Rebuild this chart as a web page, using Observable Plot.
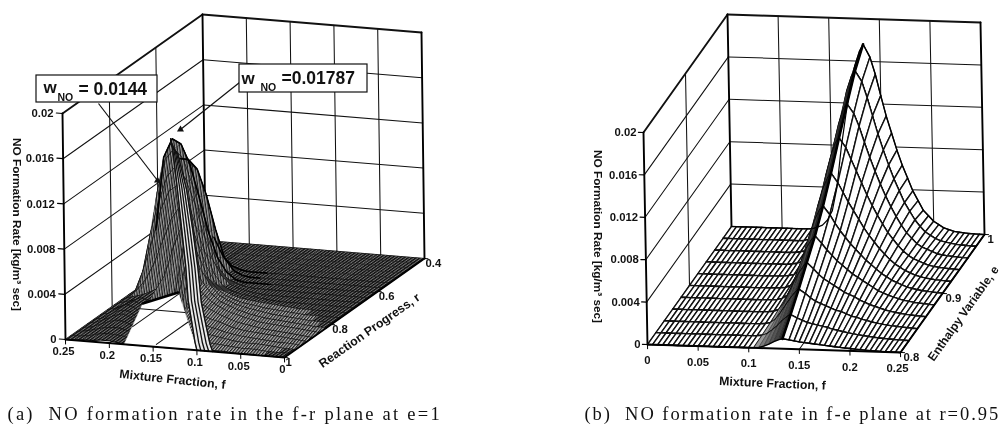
<!DOCTYPE html>
<html><head><meta charset="utf-8">
<script src="https://cdn.jsdelivr.net/npm/d3@7"></script>
<script src="https://cdn.jsdelivr.net/npm/@observablehq/plot@0.6"></script>
<style>
html,body{margin:0;padding:0;background:#fff}
svg{display:block;filter:blur(.45px)}
.capA text{letter-spacing:2.25px}
.capB text{letter-spacing:1.95px}
</style></head><body><div id="chart"></div>
<script>
// ---- panel (a) data: NO rate (1e-4 kg/m3 s) over mixture fraction f and reaction progress r
const fA=[.25,.24,.23,.22,.21,.2,.19,.18,.17,.16,.15,.14,.13,.12,.11,.1,.085,.07,.055,.04,.025,.0125,0];
const rA=[.4,.43,.46,.49,.52,.55,.58,.61,.64,.67,.7,.73,.76,.79,.82,.85,.88,.904,.928,.952,.976,1];
const zA=[
[0,0,0,0,0,0,0,0,0,0,0,0,0,0,0,0,0,0,0,0,0,0,0],
[0,0,0,0,0,0,0,0,0,0,0,0,0,0,0,0,0,0,0,0,0,0,0],
[0,0,0,0,0,0,0,0,0,0,0,0,0,0,0,0,0,0,0,0,0,0,0],
[0,0,0,0,0,0,0,0,0,0,0,0,0,0,0,0,0,0,0,0,0,0,0],
[0,8,12,12,10,5,2,0,0,0,0,0,0,0,0,0,0,0,0,0,0,0,0],
[5,22,40,46,42,28,12,4,1,0,0,0,0,0,0,0,0,0,0,0,0,0,0],
[30,75,100,100,92,70,40,15,5,1,0,0,0,0,0,0,0,0,0,0,0,0,0],
[40,105,122,118,100,72,42,20,8,2,0,0,0,0,0,0,0,0,0,0,0,0,0],
[25,78,108,118,110,88,60,35,15,6,3,1,0,0,0,0,0,0,0,0,0,0,0],
[10,47,75,98,108,98,78,50,28,14,7,4,2,1,0,0,0,0,0,0,0,0,0],
[0,20,45,72,90,96,85,60,38,20,10,6,4,3,2,1,0,0,0,0,0,0,0],
[0,5,15,30,50,70,82,72,50,30,16,10,7,5,4,3,2,1,0,0,0,0,0],
[0,3,5,8,12,25,50,70,60,42,25,16,11,8,6,5,3,2,1,0,0,0,0],
[0,3,5,8,6,0,0,15,58,52,36,24,16,12,9,7,5,3,2,1,0,0,0],
[0,2,6,10,6,0,0,0,12,45,42,30,21,15,12,9,6,4,3,2,1,0,0],
[0,2,7,11,8,0,0,0,0,10,34,32,24,18,14,11,8,5,4,3,2,1,0],
[0,2,6,10,10,5,0,0,0,0,8,24,23,19,15,12,8,6,4,3,2,1,0],
[0,2,5,9,11,8,2,0,0,0,0,6,18,16,13,11,7,5,4,3,2,1,0],
[0,1,4,7,9,8,4,0,0,0,0,0,5,13,11,9,6,4,3,2,1,1,0],
[0,1,3,5,6,6,4,1,0,0,0,0,0,6,8,7,5,3,2,2,1,0,0],
[0,0,1,3,4,4,3,1,0,0,0,0,0,0,4,4,3,2,1,1,0,0,0],
[0,0,1,1,2,2,1,0,0,0,0,0,0,0,0,1,1,1,0,0,0,0,0]];
// ridge of the (a) surface and the empty patch of its domain
const ridgeF=[.2318,.2215,.201,.1805,.16,.1415,.121,.1085,.1];
const ridgeR=[.61,.64,.7,.76,.82,.88,.94,.976,1];
const ridgeZ=[122,118,96,70,45,24,12,3,0];
const ridgeW=[0,.006,.011,.013,.014,.015,.016,.017,.018];
const holeF=[.183,.223,.2025,.108,.1];
const holeR=[1,.77,.695,.975,1];
const holeGrid=[[[.2,.9],[.2,.703]],[[.15,.986],[.15,.85]],[[.218,.8],[.167,.8]]];

// ---- panel (b) data: NO rate (1e-4) over f and enthalpy e
const fFlat=[0,.005,.01,.015,.02,.025,.03,.035,.04,.045,.05,.055,.06,.065,.07];
const fB=[.075,.08,.085,.09,.095,.1,.105,.11,.115,.12,.125,.13,.1335,.14,.145,.15,.155,.16,.165,.17,.175,.18,.185,.19,.195,.2,.205,.21,.215,.22,.225,.23,.235,.24,.245,.25];
const eB=[1,.98,.96,.94,.92,.9,.88,.86,.84,.82,.8];
const zB=[
[0,.4,2,4,9,18,40,78,108,135,156,170,176,164,148,128,109,93,77,63,51,39,30,21,16,11,8,5,3.5,2,1.4,.9,.5,.3,.1,0],
[0,.3,1.5,3,7,15,32,70,98,122,143,157,162,152,137,120,103,88,74,61,50,39,31,23,17,12,9,6,4,3,2,1.2,.8,.4,.2,0],
[0,.2,1,2,5,11,25,55,82,104,123,137,142,133,121,106,92,79,67,56,46,37,29,22,17,12,9,7,5,3,2.2,1.5,1,.6,.3,0],
[0,.1,.6,1.5,3,7,18,42,66,86,103,116,121,112,101,90,79,68,58,49,41,33,27,21,16,12,9,7,5,3.4,2.4,1.7,1.2,.8,.4,.1],
[0,.1,.3,1,2,5,12,30,50,68,83,94,99,90,81,72,64,56,48,41,35,29,24,19,15,12,9,7,5,3.6,2.6,1.9,1.3,.9,.5,.2],
[0,0,.2,.6,1,3,8,21,37,52,65,75,79,71,63,56,50,44,39,34,29,25,21,17,14,11,9,7,5,3.8,2.8,2,1.5,1,.6,.3],
[0,0,.1,.3,.7,2,5,14,26,39,50,58,62,55,49,44,39,35,31,27,24,21,18,15,12,10,8,6.5,5,3.8,2.9,2.1,1.6,1.1,.7,.3],
[0,0,0,.2,.4,1,3,9,18,28,37,44,48,42,37,33,30,27,24,21,19,17,14,12,10,8.5,7,5.5,4.4,3.4,2.6,2,1.5,1,.7,.3],
[0,0,0,.1,.2,.5,1.5,5,11,18,25,31,34,30,26,23,21,19,17,15,14,12,10,9,7.5,6.3,5.2,4.2,3.4,2.7,2.1,1.6,1.2,.8,.5,.2],
[0,0,0,0,.1,.2,.7,2.4,6,10,15,19,21,18,16,14,13,12,11,10,8.5,7.5,6.5,5.6,4.8,4,3.3,2.7,2.2,1.7,1.3,1,.7,.5,.3,.1],
[0,0,0,0,0,.1,.2,.6,2,4,6.5,8.5,9.4,8.6,7.8,7,6.5,6,5.5,5,4.5,4,3.5,3,2.6,2.2,1.8,1.5,1.2,.9,.7,.5,.4,.3,.2,0]];
const bandShades=["#999","#7a7a7a","#666","#555","#444","#2a2a2a"];

// ---- tick labels and texts
const zTicks=[0,.004,.008,.012,.016,.02];
const zLabels=["0","0.004","0.008","0.012","0.016","0.02"];
const fTicks=[.25,.2,.15,.1,.05,0];
const fLabels=["0.25","0.2","0.15","0.1","0.05","0"];
const rTicks=[1,.8,.6,.4];
const rLabels=["1","0.8","0.6","0.4"];
const eTicks=[.8,.9,1];
const eLabels=["0.8","0.9","1"];
const zTitle="NO Formation Rate [kg/m³ sec]";

// ---- oblique views of the two boxes (view setup for the library's pixel scales)
function view(o,du,dv,dz,fx,dx){
  return (a,b,z)=>[o[0]+fx(a)*du[0]+dx(b)*dv[0]+z/.02*dz[0], o[1]+fx(a)*du[1]+dx(b)*dv[1]+z/.02*dz[1]];
}
const pA=view([65,339],[219,18],[140,-99],[-3,-226],f=>1-f/.25,r=>(1-r)/.6);
const pB=view([647,344],[253,8],[84,-118],[-4,-212],f=>f/.25,e=>(e-.8)/.2);

const polys=[];let id=0;
function addLine(p,pts,stroke,sw,fill="none"){
  const k=id++;
  for(const q of pts){const [x,y]=p(q[0],q[1],q[2]||0);polys.push({k,x,y,stroke,sw,fill});}
}
function box(p,f0,f1,b0,b1,fs,bs){
  const heavy=1.9,thin=1.05;
  for(const z of zTicks){
    addLine(p,[[f0,b1,z],[f0,b0,z]],"#111",z==.02?heavy:thin);
    addLine(p,[[f0,b0,z],[f1,b0,z]],"#111",z==.02?heavy:thin);
  }
  for(const f of fs) if(f!==f0&&f!==f1) addLine(p,[[f,b0,0],[f,b0,.02]],"#111",thin);
  for(const b of bs) if(b!==b0&&b!==b1) addLine(p,[[f0,b,0],[f0,b,.02]],"#111",thin);
  for(const f of fs) if(f!==f0&&f!==f1) addLine(p,[[f,b1,0],[f,b0,0]],"#111",thin);
  for(const b of bs) if(b!==b0&&b!==b1) addLine(p,[[f0,b,0],[f1,b,0]],"#111",thin);
  addLine(p,[[f0,b1,0],[f0,b1,.02]],"#000",heavy);
  addLine(p,[[f0,b0,0],[f0,b0,.02]],"#000",heavy);
  addLine(p,[[f1,b0,0],[f1,b0,.02]],"#000",heavy);
}
box(pA,.25,0,.4,1,fTicks,rTicks);
box(pB,0,.25,1,.8,fTicks,eTicks);

function area(q){let s=0;for(let i=0;i<q.length;i++){const a=q[i],b=q[(i+1)%q.length];s+=a[0]*b[1]-a[1]*b[0];}return Math.abs(s)/2;}

// surface (a), painted back to front
zA.forEach((row,i)=>{
  if(i+1>=zA.length) return;
  for(let j=0;j+1<fA.length;j++){
    const c=[[fA[j],rA[i],row[j]],[fA[j+1],rA[i],row[j+1]],[fA[j+1],rA[i+1],zA[i+1][j+1]],[fA[j],rA[i+1],zA[i+1][j]]];
    const low=c.every(q=>q[2]<14);
    const front=i>=11&&j>=11;
    const a=area(c.map(q=>pA(q[0],q[1],q[2]*1e-4)));
    const fill=a<14?"#161616":front&&c.some(q=>q[2]>=1)?"url(#hatchMid)":low?"url(#hatchFlat)":a<40?"#333":"url(#hatchFace)";
    addLine(pA,[...c,c[0]].map(q=>[q[0],q[1],q[2]*1e-4]),"#1a1a1a",.3,fill);
  }
  addLine(pA,fA.map((f,j)=>[f,rA[i+1],zA[i+1][j]*1e-4]),"#050505",i>=4?1:.5);
});
// silhouette of the crest in (a)
addLine(pA,fA.slice(0,14).map((f,j)=>[f,.61,zA[7][j]*1e-4]),"#000",1.6);
addLine(pA,fA.slice(2,12).map((f,j)=>[f,.58,zA[6][j+2]*1e-4]),"#000",1.6);
addLine(pA,fA.slice(5,12).map((f,j)=>[f,.55,zA[5][j+5]*1e-4]),"#000",1.6);
// empty patch and the floor grid seen through it
addLine(pA,[...holeF.map((f,i)=>[f,holeR[i]]),[holeF[0],holeR[0]]],"#fff",.5,"#fff");
for(const s of holeGrid) addLine(pA,s,"#111",1.05);
addLine(pA,[[holeF[1],holeR[1]],[holeF[2],holeR[2]]],"#000",2.6);
// striped crest band
const bandPoly=[...ridgeF.map((f,i)=>[f,ridgeR[i],ridgeZ[i]*1e-4]),...ridgeF.map((f,i)=>[f-ridgeW[i],ridgeR[i],ridgeZ[i]*.96e-4]).reverse()];
addLine(pA,[...bandPoly,bandPoly[0]],"#111",.6,"#e8e8e8");
[0,.25,.5,.75,1].forEach(t=>addLine(pA,ridgeF.map((f,i)=>[f-ridgeW[i]*t,ridgeR[i],ridgeZ[i]*(1-.04*t)*1e-4]),"#111",1.35));
// axes edges of (a)
addLine(pA,[[.25,1,0],[0,1,0],[0,.4,0]],"#000",1.9);
for(const f of fTicks) addLine(pA,[[f,1,0],[f,1,-.0004]],"#000",1);
for(const r of rTicks) addLine(pA,[[0,r,0],[-.004,r,0]],"#000",1);
for(const z of zTicks) addLine(pA,[[.25,1,z],[.257,1,z]],"#000",1.2);

// surface (b)
const fAll=[...fFlat,...fB];
const zAll=zB.map(r=>[...fFlat.map(()=>0),...r]);
zAll.forEach((row,i)=>{
  if(i+1>=zAll.length) return;
  for(let j=0;j+1<fAll.length;j++){
    const c=[[fAll[j],eB[i],row[j]],[fAll[j+1],eB[i],row[j+1]],[fAll[j+1],eB[i+1],zAll[i+1][j+1]],[fAll[j],eB[i+1],zAll[i+1][j]]];
    const b=j-fFlat.length-6;
    const dense=b>=0&&b<bandShades.length;
    addLine(pB,[...c,c[0]].map(q=>[q[0],q[1],q[2]*1e-4]),"#111",dense?.4:1.4,dense?bandShades[b]:"#fff");
  }
  addLine(pB,fAll.map((f,j)=>[f,eB[i+1],zAll[i+1][j]*1e-4]),"#000",1.4);
});
addLine(pB,fAll.map((f,j)=>[f,eB[0],zAll[0][j]*1e-4]),"#000",1.2);
addLine(pB,eB.map((e,i)=>[fB[12],e,zB[i][12]*1e-4]),"#000",2.6);
addLine(pB,[[0,.8,0],[.25,.8,0],[.25,1,0]],"#000",1.9);
for(const f of fTicks) addLine(pB,[[f,.8,0],[f,.8,-.0004]],"#000",1);
for(const e of eTicks) addLine(pB,[[.25,e,0],[.254,e,0]],"#000",1);
for(const z of zTicks) addLine(pB,[[0,.8,z],[-.005,.8,z]],"#000",1.2);

// ---- texts
const endT=[],startT=[],midT=[];
function T(list,x,y,text,size=11.3,rot=0){list.push({x,y,text,size,rot});}
zLabels.forEach((s,i)=>{let [x,y]=pA(.25,1,zTicks[i]);T(endT,x-9,y,s);[x,y]=pB(0,.8,zTicks[i]);T(endT,x-7,y,s);});
fLabels.forEach((s,i)=>{let [x,y]=pA(fTicks[i],1,0);T(midT,x-2,y+12,s);[x,y]=pB(fTicks[i],.8,0);T(midT,x-(fTicks[i]===.25?3:0),y+16,s);});
rLabels.forEach((s,i)=>{const [x,y]=pA(0,rTicks[i],0);T(startT,x+1,y+5,s);});
eLabels.forEach((s,i)=>{const [x,y]=pB(.25,eTicks[i],0);T(startT,x+3,y+5,s);});
T(midT,16,224,zTitle,11.8,90);
T(midT,597,236,zTitle,11.8,90);
T(midT,172,379,"Mixture Fraction, f",12.3,6);
T(midT,772,383,"Mixture Fraction, f",12.3,2.5);
T(midT,369,330,"Reaction Progress, r",12.3,-35);
T(midT,963,313,"Enthalpy Variable, e",12,-54.6);

const calloutBoxes=[{x1:36,x2:157,y1:75,y2:102},{x1:239,x2:367,y1:64,y2:92}];
const calloutArrows=[{x1:98,y1:103,x2:157,y2:180},{x1:239,y1:82,x2:180,y2:129}];

const capFont="Liberation Serif";
const sans={fontFamily:"Liberation Sans",fontWeight:"bold",fill:"#111",lineAnchor:"middle"};
const textOpts=a=>({x:"x",y:"y",text:"text",fontSize:"size",rotate:"rot",textAnchor:a,...sans});
const patterns=()=>d3.create("svg:defs").html(`
<pattern id="hatchFlat" patternUnits="userSpaceOnUse" width="2.3" height="2.3" patternTransform="rotate(-35)"><rect width="2.3" height="2.3" fill="#777"/><rect width="2.3" height="1.35" fill="#0c0c0c"/></pattern>
<pattern id="hatchMid" patternUnits="userSpaceOnUse" width="2.4" height="2.4" patternTransform="rotate(-50)"><rect width="2.4" height="2.4" fill="#b8b8b8"/><rect width="2.4" height="1.2" fill="#1a1a1a"/></pattern>
<pattern id="hatchFace" patternUnits="userSpaceOnUse" width="2.5" height="2.5" patternTransform="rotate(82)"><rect width="2.5" height="2.5" fill="#a0a0a0"/><rect width="2.5" height="1.2" fill="#1a1a1a"/></pattern>`).node();
const chart=Plot.plot({
  width:1002,height:424,margin:0,
  x:{domain:[0,1002],range:[0,1002],axis:null},
  y:{domain:[0,424],range:[0,424],axis:null},
  color:{type:"identity"},
  style:{background:"#fff",overflow:"hidden"},
  marks:[
    patterns,
    Plot.line(polys,{x:"x",y:"y",z:"k",stroke:"stroke",strokeWidth:"sw",fill:"fill",curve:"linear",strokeLinejoin:"round"}),
    Plot.link(calloutArrows,{x1:"x1",y1:"y1",x2:"x2",y2:"y2",stroke:"#111",strokeWidth:1.2}),
    Plot.dot(calloutArrows,{x:"x2",y:"y2",r:2.6,fill:"#111",symbol:"triangle"}),
    Plot.rect(calloutBoxes,{x1:"x1",x2:"x2",y1:"y1",y2:"y2",fill:"#fff",stroke:"#111",strokeWidth:1.2}),
    Plot.text(endT,textOpts("end")),
    Plot.text(startT,textOpts("start")),
    Plot.text(midT,textOpts("middle")),
    Plot.text(["w"],{x:[43],y:[87],textAnchor:"start",fontSize:17,...sans}),
    Plot.text(["NO"],{x:[57],y:[97],textAnchor:"start",fontSize:10.5,...sans}),
    Plot.text(["= 0.0144"],{x:[78],y:[89],textAnchor:"start",fontSize:17.5,...sans}),
    Plot.text(["w"],{x:[241],y:[78],textAnchor:"start",fontSize:17,...sans}),
    Plot.text(["NO"],{x:[260],y:[87],textAnchor:"start",fontSize:10.5,...sans}),
    Plot.text(["=0.01787"],{x:[281],y:[78],textAnchor:"start",fontSize:17.5,...sans}),
    Plot.text(["(a)  NO formation rate in the f-r plane at e=1"],{x:[7],y:[414],textAnchor:"start",fontSize:18.5,fontFamily:capFont,fill:"#111",className:"capA"}),
    Plot.text(["(b)  NO formation rate in f-e plane at r=0.95"],{x:[584],y:[414],textAnchor:"start",fontSize:18.5,fontFamily:capFont,fill:"#111",className:"capB"})
  ]
});
document.getElementById("chart").append(chart);
</script></body></html>
